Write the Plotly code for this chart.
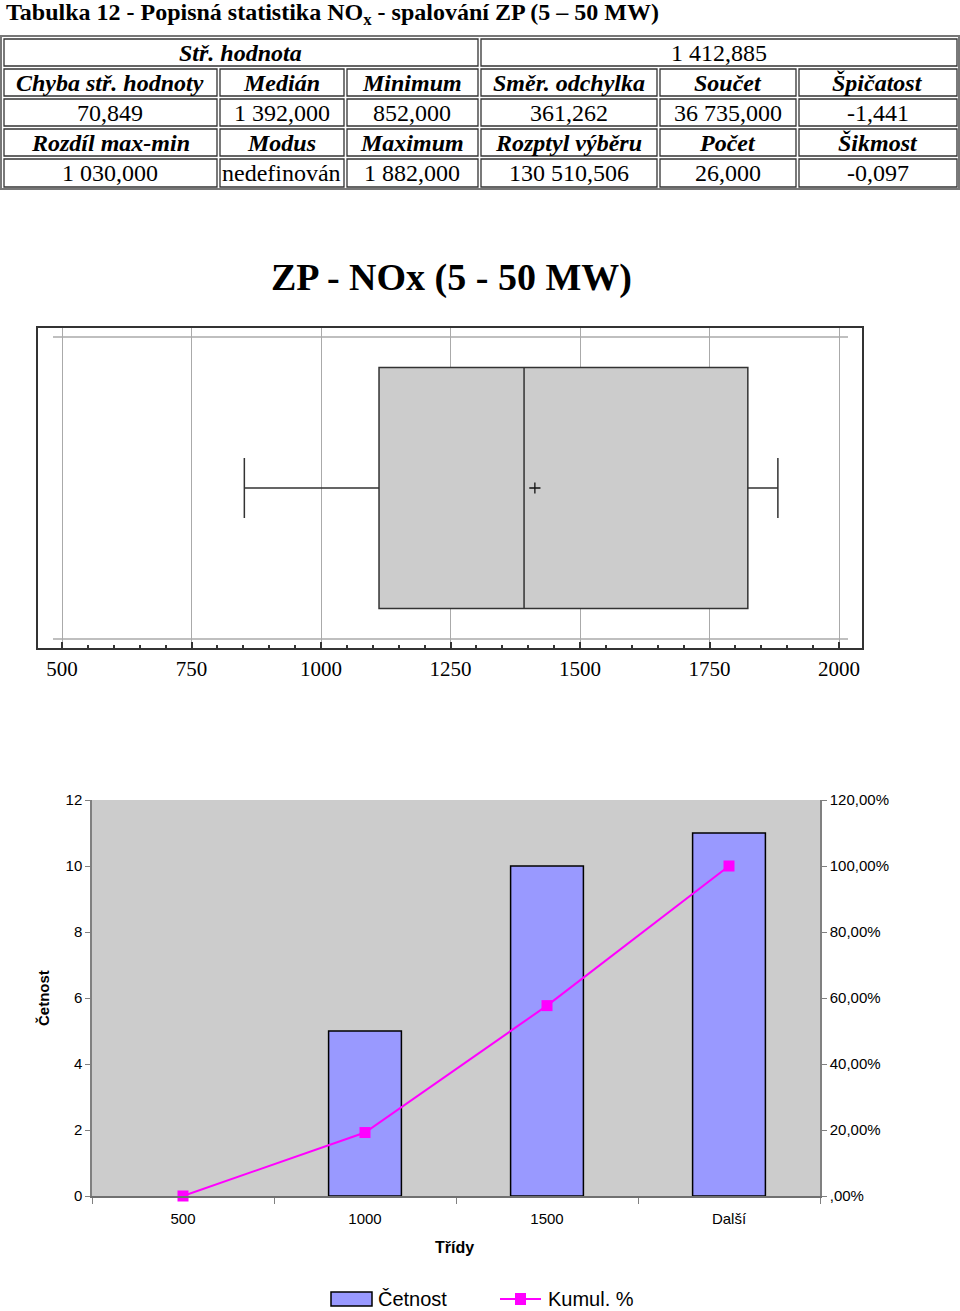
import plotly.graph_objects as go

W, H = 960, 1311

# ---------------- data ----------------
table_headers_1 = ["Chyba stř. hodnoty", "Medián", "Minimum", "Směr. odchylka", "Součet", "Špičatost"]
table_values_1 = ["70,849", "1 392,000", "852,000", "361,262", "36 735,000", "-1,441"]
table_headers_2 = ["Rozdíl max-min", "Modus", "Maximum", "Rozptyl výběru", "Počet", "Šikmost"]
table_values_2 = ["1 030,000", "nedefinován", "1 882,000", "130 510,506", "26,000", "-0,097"]
mean_label = "Stř. hodnota"
mean_text = "1 412,885"

box_min = 852.0
box_q1 = 1112.0
box_median = 1392.0
box_q3 = 1824.0
box_max = 1882.0
box_mean = 1412.885

classes = ["500", "1000", "1500", "Další"]
counts = [0, 5, 10, 11]
cumul = [0.0, 0.1923, 0.5769, 1.0]
right_tickvals = [0, 0.2, 0.4, 0.6, 0.8, 1.0, 1.2]
right_ticktext = [",00%", "20,00%", "40,00%", "60,00%", "80,00%", "100,00%", "120,00%"]
legend_names = ["Četnost", "Kumul. %"]

# ---------------- helpers ----------------
def px(x):
    return x / W

def py(y):
    return 1 - y / H

SERIF = "Liberation Serif"
SANS = "Liberation Sans"
BAR_COLOR = "#9999FF"
LINE_COLOR = "#FF00FF"

fig = go.Figure()

# ---------------- box plot ----------------
fig.add_trace(go.Box(
    y=[0], q1=[box_q1], median=[box_median], q3=[box_q3],
    lowerfence=[box_min], upperfence=[box_max],
    orientation="h", width=0.753, whiskerwidth=0.25,
    fillcolor="#CCCCCC", line=dict(color="#333333", width=1.5),
    xaxis="x", yaxis="y", showlegend=False, hoverinfo="skip",
))
fig.add_trace(go.Scatter(
    x=[box_mean], y=[0], mode="markers",
    marker=dict(symbol="cross-thin", size=8, line=dict(color="#111111", width=1.3)),
    xaxis="x", yaxis="y", showlegend=False, hoverinfo="skip",
))

# ---------------- histogram ----------------
fig.add_trace(go.Bar(
    x=classes, y=counts, name=legend_names[0], width=0.4,
    marker=dict(color=BAR_COLOR,
                line=dict(color="#000000", width=[0 if c == 0 else 1.5 for c in counts])),
    xaxis="x3", yaxis="y3", showlegend=False,
))
fig.add_trace(go.Scatter(
    x=classes, y=cumul, name=legend_names[1], mode="lines+markers",
    line=dict(color=LINE_COLOR, width=2),
    marker=dict(symbol="square", size=11, color=LINE_COLOR),
    cliponaxis=False,
    xaxis="x3", yaxis="y4", showlegend=False,
))

shapes = []
annotations = []

# histogram background
shapes.append(dict(type="rect", xref="paper", yref="paper", x0=px(92), x1=px(820),
                   y0=py(1196), y1=py(800), fillcolor="#CCCCCC", line=dict(width=0), layer="below"))

# box plot inner horizontal gray lines
for yy in (337, 639):
    shapes.append(dict(type="line", xref="paper", yref="paper", x0=px(53), x1=px(848),
                       y0=py(yy), y1=py(yy), line=dict(color="#AAAAAA", width=1.5), layer="below"))

# ---------------- table ----------------
col_edges = [2, 218, 345, 479, 658, 797, 958]
row_edges = [37, 67, 97, 127, 157, 188]
shapes.append(dict(type="rect", xref="paper", yref="paper", x0=px(1), x1=px(959),
                   y0=py(189), y1=py(36), line=dict(color="#777777", width=2)))

def cell(x0, x1, y0, y1):
    shapes.append(dict(type="rect", xref="paper", yref="paper", x0=px(x0 + 2), x1=px(x1 - 1),
                       y0=py(y1 - 1), y1=py(y0 + 2), line=dict(color="#333333", width=1.3)))

def cell_text(text, x0, x1, y0, y1, italic_bold):
    t = f"<b><i>{text}</i></b>" if italic_bold else text
    annotations.append(dict(text=t, xref="paper", yref="paper", x=px((x0 + x1) / 2),
                            y=py((y0 + y1) / 2 + 1), showarrow=False, xanchor="center", yanchor="middle",
                            font=dict(family=SERIF, size=24, color="#000000")))

cell(col_edges[0], col_edges[3], row_edges[0], row_edges[1])
cell(col_edges[3], col_edges[6], row_edges[0], row_edges[1])
cell_text(mean_label, col_edges[0], col_edges[3], row_edges[0], row_edges[1], True)
cell_text(mean_text, col_edges[3], col_edges[6], row_edges[0], row_edges[1], False)

rows = [(table_headers_1, True), (table_values_1, False), (table_headers_2, True), (table_values_2, False)]
for r, (items, hdr) in enumerate(rows, start=1):
    for c, txt in enumerate(items):
        cell(col_edges[c], col_edges[c + 1], row_edges[r], row_edges[r + 1])
        cell_text(txt, col_edges[c], col_edges[c + 1], row_edges[r], row_edges[r + 1], hdr)

# ---------------- titles ----------------
annotations.append(dict(text="<b>Tabulka 12 - Popisná statistika NO<sub>x</sub> - spalování ZP (5 – 50 MW)</b>",
                        xref="paper", yref="paper", x=px(4), y=py(14), xanchor="left", yanchor="middle",
                        showarrow=False, font=dict(family=SERIF, size=24, color="#000000")))
annotations.append(dict(text="<b>ZP - NOx (5 - 50 MW)</b>", xref="paper", yref="paper",
                        x=px(451), y=py(277), xanchor="center", yanchor="middle", showarrow=False,
                        font=dict(family=SERIF, size=38, color="#000000")))
annotations.append(dict(text="<b>Četnost</b>", xref="paper", yref="paper", x=px(43), y=py(998),
                        xanchor="center", yanchor="middle", textangle=-90, showarrow=False,
                        font=dict(family=SANS, size=15, color="#000000")))
annotations.append(dict(text="<b>Třídy</b>", xref="paper", yref="paper", x=px(454), y=py(1247),
                        xanchor="center", yanchor="middle", showarrow=False,
                        font=dict(family=SANS, size=16, color="#000000")))

# ---------------- custom legend ----------------
shapes.append(dict(type="rect", xref="paper", yref="paper", x0=px(331), x1=px(372),
                   y0=py(1306), y1=py(1292), fillcolor=BAR_COLOR, line=dict(color="#000000", width=1.5)))
annotations.append(dict(text=legend_names[0], xref="paper", yref="paper", x=px(376), y=py(1299),
                        xanchor="left", yanchor="middle", showarrow=False,
                        font=dict(family=SANS, size=20, color="#000000")))
shapes.append(dict(type="line", xref="paper", yref="paper", x0=px(500), x1=px(541),
                   y0=py(1299), y1=py(1299), line=dict(color=LINE_COLOR, width=2)))
shapes.append(dict(type="rect", xref="paper", yref="paper", x0=px(515), x1=px(526),
                   y0=py(1305), y1=py(1293), fillcolor=LINE_COLOR, line=dict(width=0)))
annotations.append(dict(text=legend_names[1], xref="paper", yref="paper", x=px(546), y=py(1299),
                        xanchor="left", yanchor="middle", showarrow=False,
                        font=dict(family=SANS, size=20, color="#000000")))

x_lo = 500 - 24 / 0.518
x_hi = 2000 + 23 / 0.518

fig.update_layout(
    width=W, height=H,
    margin=dict(l=0, r=0, t=0, b=0, pad=0, autoexpand=False),
    paper_bgcolor="white", plot_bgcolor="white",
    showlegend=False,
    shapes=shapes, annotations=annotations,
    xaxis=dict(domain=[px(38), px(862)], range=[x_lo, x_hi], anchor="y", automargin=False,
               tickmode="linear", tick0=500, dtick=250,
               showgrid=True, gridcolor="#AAAAAA", gridwidth=1.2, zeroline=False,
               ticks="inside", ticklen=6, tickcolor="#333333", tickwidth=1.5,
               minor=dict(dtick=50, tick0=500, ticks="inside", ticklen=3, tickcolor="#333333", showgrid=False),
               showline=True, linecolor="#333333", linewidth=2, mirror=True,
               tickfont=dict(family=SERIF, size=21, color="#000000"), ticklabelstandoff=1),
    xaxis2=dict(overlaying="x", side="top", anchor="y", range=[x_lo, x_hi], automargin=False,
                tickmode="linear", tick0=500, dtick=250, showgrid=False, zeroline=False,
                ticks="inside", ticklen=6, tickcolor="#333333", tickwidth=1.5,
                minor=dict(dtick=50, tick0=500, ticks="inside", ticklen=3, tickcolor="#333333", showgrid=False),
                showticklabels=False, showline=False),
    yaxis=dict(domain=[py(648), py(328)], range=[-0.5, 0.5], anchor="x", automargin=False,
               showgrid=False, zeroline=False, showticklabels=False, ticks="",
               showline=True, linecolor="#333333", linewidth=2, mirror=True),
    xaxis3=dict(domain=[px(92), px(820)], range=[-0.5, 3.5], anchor="y3", automargin=False,
                type="category", tickson="boundaries", ticks="outside", ticklen=6,
                tickcolor="#808080", showline=True, linecolor="#707070", linewidth=1.5,
                showgrid=False, zeroline=False, ticklabelstandoff=8,
                tickfont=dict(family=SANS, size=15, color="#000000")),
    yaxis3=dict(domain=[py(1196), py(800)], range=[0, 12], anchor="x3", dtick=2, automargin=False,
                ticks="outside", ticklen=5, tickcolor="#808080", showline=True,
                linecolor="#808080", linewidth=1.5, showgrid=False, zeroline=False,
                tickfont=dict(family=SANS, size=15, color="#000000")),
    yaxis4=dict(overlaying="y3", side="right", anchor="x3", range=[0, 1.2], automargin=False,
                tickvals=right_tickvals, ticktext=right_ticktext,
                ticks="outside", ticklen=5, tickcolor="#808080", showline=True,
                linecolor="#808080", linewidth=1.5, showgrid=False, zeroline=False,
                tickfont=dict(family=SANS, size=15, color="#000000")),
)

fig.write_html("out.html")
